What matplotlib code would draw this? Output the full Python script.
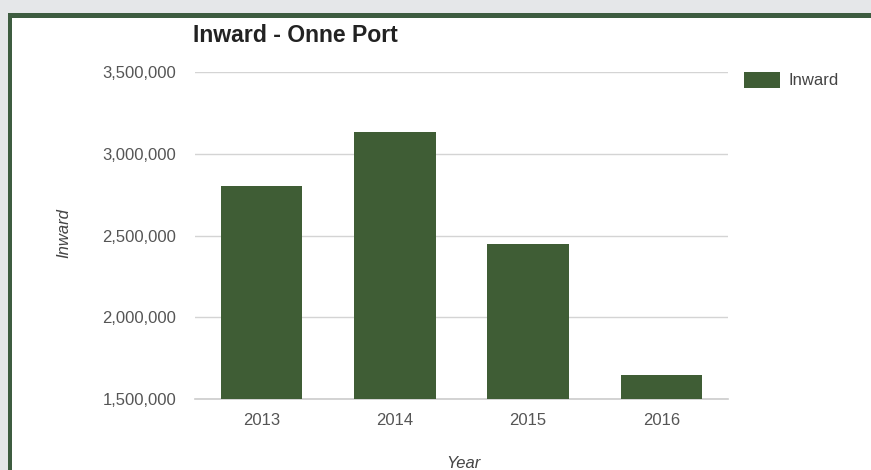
import matplotlib
matplotlib.use("Agg")
import matplotlib.pyplot as plt
from matplotlib.patches import Rectangle
from matplotlib.ticker import FuncFormatter

years = ["2013", "2014", "2015", "2016"]
inward = [2800000, 3135000, 2450000, 1645000]
yticks = [1500000, 2000000, 2500000, 3000000, 3500000]

plt.rcParams["font.family"] = ["Liberation Sans", "DejaVu Sans"]
W, H = 871, 470
fig = plt.figure(figsize=(W / 100, H / 100), dpi=100)
fig.patch.set_facecolor("#e5e7e9")

# white panel with green frame
fig.patches.append(Rectangle((8 / W, 0), 1 - 8 / W, 1 - 13 / H, transform=fig.transFigure,
                             facecolor="#3d5c40", edgecolor="none", zorder=-10))
fig.patches.append(Rectangle((12 / W, 0), 1 - 12 / W, 1 - 18 / H, transform=fig.transFigure,
                             facecolor="white", edgecolor="none", zorder=-9))

ax = fig.add_axes([195 / W, (H - 399) / H, (728 - 195) / W, (399 - 72) / H])
ax.set_facecolor("none")
x = range(len(years))
ax.bar(x, inward, width=0.61, color="#3f5d35", zorder=2, label="Inward")
ax.set_xlim(-0.5, len(years) - 0.5)
ax.set_ylim(yticks[0], yticks[-1])
ax.set_yticks(yticks)
ax.yaxis.set_major_formatter(FuncFormatter(lambda v, p: f"{int(v):,}"))
ax.set_xticks(list(x))
ax.set_xticklabels(years)
ax.grid(axis="y", color="#d4d4d4", linewidth=1, zorder=0)
ax.axhline(yticks[0], color="#cccccc", linewidth=1.2, zorder=1, clip_on=False)
ax.set_axisbelow(True)
for s in ax.spines.values():
    s.set_visible(False)
ax.tick_params(axis="both", length=0, labelsize=12, labelcolor="#555555")
ax.tick_params(axis="y", pad=13.5)
ax.tick_params(axis="x", pad=10)

fig.text(193 / W, 1 - 35 / H, "Inward - Onne Port", fontsize=16.6, fontweight="bold",
         color="#222222", va="center", ha="left")
fig.text(64 / W, 1 - 233 / H, "Inward", rotation=90, fontsize=12, style="italic",
         color="#444444", va="center", ha="center")
fig.text(463 / W, 1 - 463 / H, "Year", fontsize=12, style="italic",
         color="#444444", va="center", ha="center")

leg = ax.legend(loc="upper left", bbox_to_anchor=(737 / W, 1 - 65 / H),
                bbox_transform=fig.transFigure, frameon=False, fontsize=12,
                handlelength=2.2, handleheight=1.1, handletextpad=0.5, borderaxespad=0)
for t in leg.get_texts():
    t.set_color("#444444")

fig.savefig("out.png", dpi=100, facecolor=fig.get_facecolor())
